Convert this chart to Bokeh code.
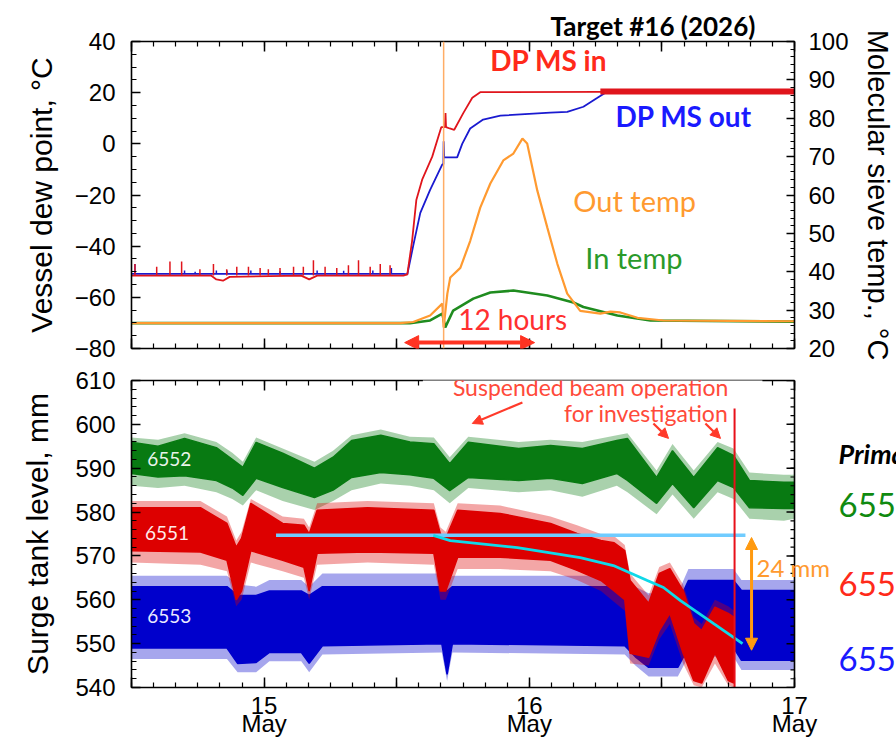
from bokeh.plotting import figure
from bokeh.models import Range1d, LinearAxis, FixedTicker, Label, Span, Arrow, NormalHead
from bokeh.layouts import column
from bokeh.embed import file_html
from bokeh.resources import INLINE

# ---------------- data (time = day of May 2026) ----------------
# Top panel: vessel dew point (left axis, degC)
dp_in_t = [14.50, 14.80, 14.82, 14.845, 14.87, 15.14, 15.17, 15.20, 15.525, 15.540, 15.558,
           15.574, 15.596, 15.634, 15.668, 15.682, 15.684, 15.686, 15.700, 15.717, 15.751,
           15.785, 15.815, 16.268, 17.00]
dp_in_v = [-51.5, -51.5, -53.0, -53.5, -52.0, -51.5, -53.0, -51.5, -51.5, -51.0, -38.0,
           -22.0, -14.0, -5.0, 6.5, 6.5, 12.0, 6.5, 6.0, 5.5, 12.0,
           18.0, 20.2, 20.3, 20.3]
dp_in_spike_t = [14.513, 14.595, 14.645, 14.689, 14.758, 14.809, 14.859, 14.897, 14.941, 14.985,
                 15.016, 15.060, 15.111, 15.148, 15.186, 15.230, 15.274, 15.318, 15.356, 15.400,
                 15.438, 15.475]
dp_in_spike_v = [-47.0, -48.0, -46.0, -46.0, -49.0, -47.0, -49.0, -48.0, -48.0, -48.5,
                 -49.0, -48.5, -48.0, -48.0, -45.5, -48.0, -48.5, -47.5, -45.5, -48.0,
                 -47.0, -47.5]
dp_in_noise_t = [16.268, 17.00]
dp_in_noise_hi = [21.6, 21.6]
dp_in_noise_lo = [19.3, 19.3]

dp_out_t = [14.50, 15.525, 15.540, 15.562, 15.589, 15.626, 15.672, 15.676, 15.677, 15.679,
            15.728, 15.747, 15.777, 15.826, 15.891, 16.079, 16.143, 16.204, 16.257, 16.287, 17.00]
dp_out_v = [-50.8, -50.8, -51.0, -40.0, -27.0, -18.0, -8.0, -8.0, 1.0, -5.3,
            -5.3, 0.0, 6.0, 9.5, 11.0, 12.2, 12.5, 14.5, 18.0, 20.0, 20.0]
dp_out_spike_t = [14.513, 14.70, 14.74, 14.82, 14.86, 14.95, 15.06, 15.20, 15.30, 15.41, 15.48]
dp_out_spike_v = [-47.0, -49.5, -50.0, -49.5, -49.5, -49.5, -49.8, -49.5, -49.6, -49.5, -48.5]

# Top panel: molecular sieve temperatures (right axis, degC)
out_t = [14.50, 15.513, 15.562, 15.626, 15.672, 15.677, 15.691, 15.702, 15.740, 15.777,
         15.815, 15.853, 15.902, 15.940, 15.974, 15.992, 16.030, 16.068, 16.106, 16.143,
         16.192, 16.268, 16.306, 16.343, 16.408, 16.506, 17.00]
out_v = [26.6, 26.6, 26.9, 28.6, 31.7, 25.5, 34.3, 38.5, 41.0, 48.0,
         56.7, 63.0, 69.0, 70.8, 74.7, 73.4, 61.2, 51.5, 42.0, 34.3,
         29.8, 29.1, 29.6, 29.4, 28.0, 27.3, 27.1]
in_t = [14.50, 15.55, 15.626, 15.672, 15.683, 15.713, 15.789, 15.853, 15.940, 16.068,
        16.166, 16.204, 16.332, 16.457, 17.00]
in_v = [26.6, 26.6, 27.3, 29.1, 25.5, 29.9, 33.0, 34.6, 35.1, 33.8,
        32.0, 30.8, 28.6, 27.3, 27.0]
beam_event_t = 15.677
span12_start, span12_end, span12_level = 15.53, 16.02, -77.7

# Bottom panel: surge tank level, dense core of each trace and the reach of its spikes (mm)
g_t = [14.50, 14.60, 14.70, 14.82, 14.88, 14.92, 14.97, 15.07, 15.19, 15.26, 15.33, 15.44,
       15.55, 15.64, 15.70, 15.77, 15.96, 16.08, 16.20, 16.33, 16.37, 16.48, 16.54, 16.62,
       16.71, 16.77, 16.83, 16.96, 17.00]
g_hi = [595.9, 595.0, 596.8, 594.7, 592.0, 590.2, 595.9, 593.4, 590.0, 592.5, 596.3, 597.5,
        596.0, 595.6, 591.0, 595.9, 594.5, 595.2, 594.5, 596.3, 596.8, 587.9, 594.0, 587.9,
        594.7, 592.9, 587.2, 586.8, 586.8]
g_lo = [588.8, 588.0, 588.3, 587.2, 585.5, 583.8, 587.7, 585.6, 583.3, 585.0, 587.9, 589.0,
        588.5, 587.7, 584.9, 587.9, 587.2, 587.7, 586.5, 588.8, 587.2, 582.0, 586.5, 581.0,
        587.2, 585.6, 581.0, 580.8, 580.8]
g_spk_hi = [597.0, 596.5, 598.0, 596.0, 593.5, 591.5, 597.0, 594.5, 591.5, 594.0, 597.5, 598.8,
            597.2, 597.0, 592.5, 597.2, 596.0, 596.5, 596.0, 597.5, 598.0, 589.5, 595.5, 589.5,
            596.0, 594.5, 589.0, 588.5, 588.5]
g_spk_lo = [586.0, 585.5, 586.0, 584.5, 583.0, 581.5, 585.0, 582.5, 580.5, 582.5, 585.0, 586.5,
            586.0, 585.0, 582.0, 585.5, 584.5, 585.0, 583.5, 586.0, 584.5, 579.5, 584.0, 578.5,
            584.5, 583.0, 578.5, 578.0, 578.5]

r_t = [14.50, 14.76, 14.86, 14.895, 14.915, 14.95, 15.07, 15.15, 15.17, 15.20, 15.39, 15.64,
       15.665, 15.685, 15.73, 15.89, 16.08, 16.18, 16.27, 16.32, 16.36, 16.38, 16.45, 16.49,
       16.53, 16.58, 16.62, 16.65, 16.70, 16.75, 16.772]
r_hi = [581.0, 581.0, 577.4, 572.0, 574.0, 582.0, 577.4, 577.0, 575.0, 580.4, 581.0, 580.4,
        575.0, 574.0, 580.4, 579.7, 577.4, 575.1, 573.5, 573.0, 571.2, 564.4, 559.2, 566.0,
        567.1, 562.1, 554.6, 553.0, 558.3, 556.9, 556.0]
r_lo = [571.2, 570.9, 569.0, 560.0, 562.0, 571.2, 569.0, 567.4, 562.0, 570.6, 570.9, 570.6,
        562.0, 562.0, 569.7, 569.7, 569.0, 566.7, 564.4, 562.0, 560.0, 547.8, 546.9, 553.0,
        556.9, 547.8, 541.6, 541.0, 547.8, 541.6, 541.0]
r_spk_hi = [582.5, 582.5, 579.0, 573.5, 575.5, 583.0, 579.0, 578.5, 576.5, 582.0, 582.5, 582.0,
            576.5, 575.5, 582.0, 581.5, 579.0, 577.0, 575.0, 574.5, 572.5, 566.0, 561.0, 567.5,
            568.5, 563.5, 556.0, 554.5, 560.0, 558.5, 557.5]
r_spk_lo = [568.5, 568.0, 566.5, 558.5, 560.0, 568.5, 566.5, 565.0, 560.0, 568.0, 568.5, 568.0,
            560.0, 560.0, 567.0, 567.0, 566.5, 564.5, 562.0, 559.5, 557.5, 545.5, 545.0, 551.0,
            554.5, 545.5, 540.5, 540.0, 545.5, 540.5, 540.0]

b_t = [14.50, 14.86, 14.90, 14.97, 15.02, 15.14, 15.17, 15.22, 15.67, 15.69, 15.71, 16.36,
       16.40, 16.45, 16.56, 16.60, 16.77, 16.80, 17.00]
b_hi = [563.0, 563.0, 561.0, 561.0, 562.0, 562.0, 561.0, 563.0, 563.0, 562.0, 563.0, 563.0,
        561.0, 559.2, 559.2, 564.4, 564.4, 562.1, 562.1]
b_lo = [549.0, 549.0, 545.5, 545.7, 548.0, 548.0, 545.5, 549.5, 550.0, 543.0, 550.0, 549.5,
        547.0, 544.6, 544.6, 549.1, 549.1, 546.2, 546.2]
b_spk_hi = [565.5, 565.5, 563.5, 563.0, 564.5, 564.5, 563.0, 566.0, 566.0, 564.0, 565.5, 565.5,
            563.0, 561.5, 561.5, 567.0, 567.0, 564.5, 564.5]
b_spk_lo = [546.5, 546.5, 543.5, 543.5, 546.0, 546.0, 543.5, 547.5, 548.0, 541.5, 548.0, 547.5,
            545.0, 542.5, 542.5, 547.0, 547.0, 544.0, 544.0]

ref_level_t = [15.045, 16.815]
ref_level_v = [574.7, 574.7]
trend_t = [15.638, 15.702, 15.955, 16.192, 16.317, 16.445, 16.506, 16.570, 16.694, 16.804]
trend_v = [574.7, 573.5, 571.9, 569.6, 567.8, 564.4, 562.8, 559.8, 554.6, 550.0]
stop_t, stop_top = 16.774, 603.6
drop_t, drop_hi, drop_lo = 16.838, 574.2, 548.5

# axes / ticks
X_START, X_END = 14.5, 17.0
X_END_BOTTOM_FRAME = 17.3846     # bottom frame runs on to the page edge (right-hand legend text)
PX_PER_DAY = 765 / (X_END_BOTTOM_FRAME - X_START)
x_major = [14.5, 15.0, 15.5, 16.0, 16.5, 17.0]
x_minor = [14.5 + i / 12.0 for i in range(31)]
x_labels = {14.5: "", 15.0: "15\nMay", 15.5: "", 16.0: "16\nMay", 16.5: "", 17.0: "17\nMay"}
dp_major = [-80, -60, -40, -20, 0, 20, 40]
dp_minor = list(range(-80, 41, 5))
temp_major = [20, 30, 40, 50, 60, 70, 80, 90, 100]
temp_minor = list(range(20, 101, 2))
lvl_major = [540, 550, 560, 570, 580, 590, 600, 610]
lvl_minor = list(range(540, 611, 2))

AX_FONT = "Liberation Sans"
NOTE_FONT = "Lato"


def style_axis(ax, ticks, show_labels=True, major_len=9, minor_len=5):
    ax.axis_line_width = 1.6
    ax.axis_line_color = "black"
    ax.major_tick_in, ax.major_tick_out = major_len, 0
    ax.minor_tick_in, ax.minor_tick_out = minor_len, 0
    ax.major_tick_line_width = 1.5
    ax.minor_tick_line_width = 1.2
    ax.major_tick_line_color = "black"
    ax.minor_tick_line_color = "black"
    ax.major_label_text_font = AX_FONT
    ax.major_label_text_color = "black"
    ax.major_label_text_font_size = "24px"
    ax.axis_label_text_font = AX_FONT
    ax.axis_label_text_font_style = "normal"
    ax.axis_label_text_font_size = "30px"
    ax.axis_label_text_color = "black"
    if not show_labels:
        ax.major_label_overrides = {t: "" for t in ticks}
        ax.major_label_text_font_size = "4px"
        ax.major_label_standoff = 0


# ---------------- top panel ----------------
p1 = figure(frame_width=663, frame_height=307, x_range=Range1d(X_START, X_END), y_range=Range1d(-80, 40),
            output_backend="svg", toolbar_location=None,
            min_border_left=131, min_border_right=102, min_border_top=41, min_border_bottom=14)
p1.extra_y_ranges = {"temp": Range1d(20, 100)}
p1.grid.visible = False
p1.outline_line_color = None
p1.title.text = "Target #16 (2026)"
p1.title.text_font = NOTE_FONT
p1.title.text_font_style = "bold"
p1.title.text_font_size = "26px"
p1.title.text_color = "black"
p1.title.align = "left"
p1.title.offset = 419
p1.title.standoff = 0

xb = p1.xaxis[0]
xb.ticker = FixedTicker(ticks=x_major, minor_ticks=x_minor)
style_axis(xb, x_major, show_labels=False, major_len=10)
xa = LinearAxis(ticker=FixedTicker(ticks=x_major, minor_ticks=x_minor))
style_axis(xa, x_major, show_labels=False, major_len=10)
p1.add_layout(xa, "above")

yl = p1.yaxis[0]
yl.ticker = FixedTicker(ticks=dp_major, minor_ticks=dp_minor)
style_axis(yl, dp_major)
yl.major_label_standoff = 16
yl.axis_label = "Vessel dew point, \u00b0C"
yl.axis_label_standoff = 14

yr = LinearAxis(y_range_name="temp", ticker=FixedTicker(ticks=temp_major, minor_ticks=temp_minor))
style_axis(yr, temp_major, major_len=8, minor_len=4)
yr.major_label_standoff = 14
yr.axis_label = "Molecular sieve temp., \u00b0C"
yr.axis_label_text_font_size = "29px"
yr.axis_label_standoff = 10
p1.add_layout(yr, "right")

p1.add_layout(Span(location=beam_event_t, dimension="height", line_color="#ffad66", line_width=1.5))

# temperatures
p1.line(in_t, in_v, y_range_name="temp", line_color="#1f8c1f", line_width=2.6)
p1.line(out_t, out_v, y_range_name="temp", line_color="#ff9a30", line_width=2.2)
# dew points
p1.segment(x0=dp_out_spike_t, y0=[-50.8] * len(dp_out_spike_t), x1=dp_out_spike_t, y1=dp_out_spike_v,
           line_color="#1a1ad0", line_width=1.5)
p1.line(dp_out_t, dp_out_v, line_color="#1a1ad0", line_width=1.8)
p1.segment(x0=dp_in_spike_t, y0=[-51.5] * len(dp_in_spike_t), x1=dp_in_spike_t, y1=dp_in_spike_v,
           line_color="#e0151c", line_width=1.5)
p1.line(dp_in_t, dp_in_v, line_color="#e0151c", line_width=1.8)
p1.varea(x=dp_in_noise_t, y1=dp_in_noise_lo, y2=dp_in_noise_hi, fill_color="#e0151c")

p1.add_layout(Arrow(x_start=span12_start, y_start=span12_level, x_end=span12_end, y_end=span12_level,
                    line_color="#ff3322", line_width=4,
                    start=NormalHead(size=14, fill_color="#ff3322", line_color="#ff3322"),
                    end=NormalHead(size=14, fill_color="#ff3322", line_color="#ff3322")))


def note(p, x, y, text, color, size, align="left", style="normal", font=NOTE_FONT, **kw):
    lab = Label(x=x, y=y, text=text, text_color=color, text_font=font,
                text_font_size=size, text_align=align, text_baseline="middle",
                text_font_style=style, **kw)
    p.add_layout(lab)
    return lab


note(p1, 15.853, 32.6, "DP MS in", "#ff2a1a", "28px", style="bold")
note(p1, 16.325, 10.7, "DP MS out", "#1a1aff", "28px", style="bold")
note(p1, 16.166, -22.2, "Out temp", "#ff9a30", "29px")
note(p1, 16.211, -44.4, "In temp", "#2a9a2a", "29px")
note(p1, 15.732, -68.3, "12 hours", "#ff3030", "28px")

# ---------------- bottom panel ----------------
p2 = figure(frame_width=765, frame_height=307, x_range=Range1d(X_START, X_END_BOTTOM_FRAME),
            y_range=Range1d(540, 610), output_backend="svg", toolbar_location=None,
            min_border_left=131, min_border_right=0, min_border_top=18, min_border_bottom=49)
p2.grid.visible = False
p2.outline_line_color = None

xb2 = p2.xaxis[0]
xb2.ticker = FixedTicker(ticks=x_major, minor_ticks=x_minor)
style_axis(xb2, x_major, major_len=10)
xb2.bounds = (X_START, X_END)
xb2.major_label_overrides = x_labels
xb2.major_label_standoff = 4
xb2.major_label_text_font_size = "24px"
xb2.major_label_text_line_height = 0.7
xa2 = LinearAxis(ticker=FixedTicker(ticks=x_major, minor_ticks=x_minor), bounds=(X_START, X_END))
style_axis(xa2, x_major, show_labels=False, major_len=10)
p2.add_layout(xa2, "above")

yl2 = p2.yaxis[0]
yl2.ticker = FixedTicker(ticks=lvl_major, minor_ticks=lvl_minor)
style_axis(yl2, lvl_major)
yl2.major_label_standoff = 16
yl2.axis_label = "Surge tank level, mm"
yl2.axis_label_standoff = 18

for (t, lo, hi, slo, shi, c) in [(b_t, b_lo, b_hi, b_spk_lo, b_spk_hi, "#0000cc"),
                                 (g_t, g_lo, g_hi, g_spk_lo, g_spk_hi, "#087a12"),
                                 (r_t, r_lo, r_hi, r_spk_lo, r_spk_hi, "#dd0000")]:
    p2.varea(x=t, y1=slo, y2=shi, fill_color=c, fill_alpha=0.35)
    p2.varea(x=t, y1=lo, y2=hi, fill_color=c)
    p2.line(t, hi, line_color=c, line_width=1.5)
    p2.line(t, lo, line_color=c, line_width=1.5)

# right-hand frame of the bottom panel (at the end of the time range) with inward ticks
maj_len, min_len = 8 / PX_PER_DAY, 4 / PX_PER_DAY
p2.segment(x0=[X_END], y0=[540], x1=[X_END], y1=[610], line_color="black", line_width=1.6)
p2.segment(x0=[X_END] * len(lvl_minor), y0=lvl_minor, x1=[X_END - min_len] * len(lvl_minor), y1=lvl_minor,
           line_color="black", line_width=1.2)
p2.segment(x0=[X_END] * len(lvl_major), y0=lvl_major, x1=[X_END - maj_len] * len(lvl_major), y1=lvl_major,
           line_color="black", line_width=1.5)

p2.line(ref_level_t, ref_level_v, line_color="#70ccff", line_width=3.5)
p2.line(trend_t, trend_v, line_color="#10d8e8", line_width=2.8)
p2.segment(x0=[stop_t], y0=[stop_top], x1=[stop_t], y1=[540], line_color="#e8101a", line_width=2)

p2.add_layout(Arrow(x_start=drop_t, y_start=drop_hi, x_end=drop_t, y_end=drop_lo,
                    line_color="#ff9a10", line_width=3,
                    start=NormalHead(size=12, fill_color="#ff9a10", line_color="#ff9a10"),
                    end=NormalHead(size=12, fill_color="#ff9a10", line_color="#ff9a10")))

note(p2, 16.879, 608.6, "Suspended beam operation", "#ff4a3a", "23px", align="right",
     background_fill_color="white", padding=dict(left=30, right=34, top=2, bottom=2))
note(p2, 16.75, 602.7, "for investigation", "#ff4a3a", "23px", align="right",
     background_fill_color="white")

for (x0, y0, x1, y1) in [(15.974, 605.0, 15.785, 600.2), (16.468, 600.2, 16.525, 596.8),
                         (16.664, 600.2, 16.721, 596.8)]:
    p2.add_layout(Arrow(x_start=x0, y_start=y0, x_end=x1, y_end=y1, line_color="#ff3a2a", line_width=2.2,
                        end=NormalHead(size=10, fill_color="#ff3a2a", line_color="#ff3a2a")))

note(p2, 14.559, 592.2, "6552", "#eaf4ea", "19px")
note(p2, 14.551, 575.3, "6551", "#ffeaea", "19px")
note(p2, 14.559, 556.4, "6553", "#eaeaff", "19px")
note(p2, 16.857, 567.4, "24 mm", "#ff9a30", "24px")

note(p2, 17.166, 593.4, "Primary", "black", "27px", style="bold italic")
note(p2, 17.166, 581.7, "6552", "#108a10", "33px")
note(p2, 17.166, 563.5, "6551", "#ff2a1a", "33px")
note(p2, 17.166, 546.4, "6553", "#1a1aff", "33px")

layout = column(p1, p2, spacing=0)
open("out.html", "w").write(file_html(layout, INLINE))
